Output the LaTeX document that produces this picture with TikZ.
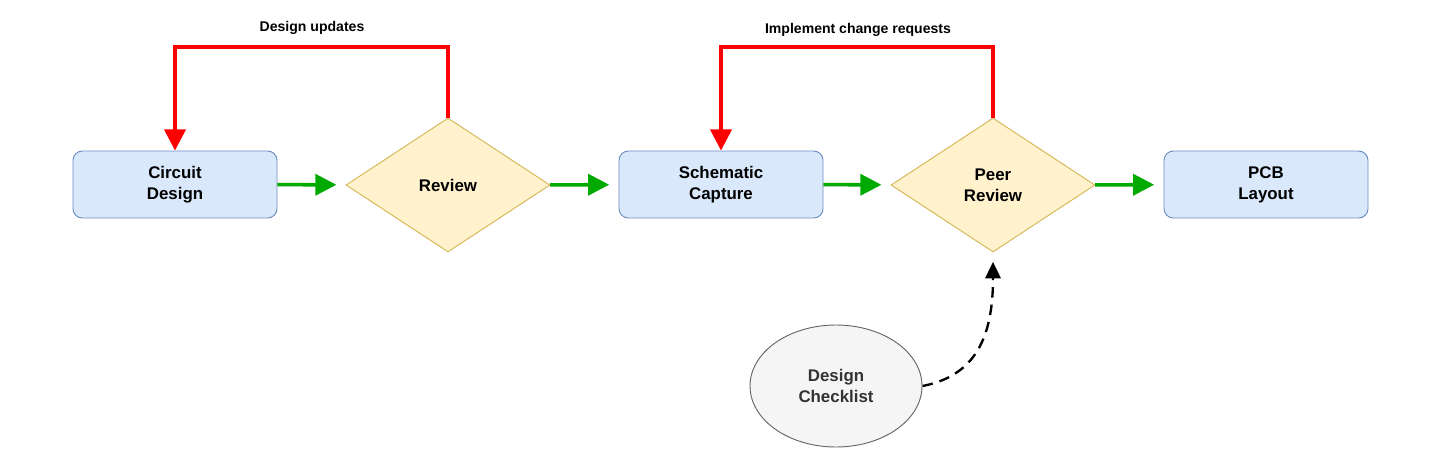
\documentclass[tikz,border=0pt]{standalone}
\usepackage{fontspec}
\setmainfont{Liberation Sans}
\usetikzlibrary{shapes.geometric,arrows.meta}
\definecolor{boxfill}{HTML}{DAE8FC}
\definecolor{boxline}{HTML}{6C8EBF}
\definecolor{decfill}{HTML}{FFF2CC}
\definecolor{decline}{HTML}{D6B656}
\definecolor{ovalfill}{HTML}{F5F5F5}
\definecolor{ovalline}{HTML}{666666}
\definecolor{flowgreen}{HTML}{00AA00}
\tikzset{
  stage/.style={draw=boxline,fill=boxfill,rounded corners=8pt,minimum width=6.12cm,
    minimum height=2.01cm,align=center,font=\Large\bfseries,line width=0.8pt},
  check/.style={diamond,draw=decline,fill=decfill,minimum width=6.12cm,minimum height=4.02cm,
    inner sep=0pt,align=center,font=\Large\bfseries,line width=0.8pt},
  oval/.style={ellipse,draw=ovalline,fill=ovalfill,minimum width=5.16cm,minimum height=3.66cm,
    align=center,font=\Large\bfseries,text=black!80,line width=0.8pt},
  go/.style={draw=flowgreen,line width=3pt,-{Triangle[length=18pt,width=18pt]},shorten >=8pt},
  back/.style={draw=red,line width=3pt,-{Triangle[length=18pt,width=18pt]}},
  note/.style={font=\large\bfseries}
}
\begin{document}
\begin{tikzpicture}[x=0.03cm,y=-0.03cm]
    \useasboundingbox (0,0) rectangle (1431,463);
    % main flow
    \node[stage] (circuit) at (175,184.5) {Circuit\\Design};
    \node[check] (review) at (448,185) {Review};
    \node[stage] (schematic) at (721,184.5) {Schematic\\Capture};
    \node[check] (peer) at (993,185) {Peer\\Review};
    \node[stage] (pcb) at (1266,184.5) {PCB\\Layout};
    \node[oval] (checklist) at (836,386) {Design\\Checklist};

    \draw[go] (circuit) -- (review);
    \draw[go] (review) -- (schematic);
    \draw[go] (schematic) -- (peer);
    \draw[go] (peer) -- (pcb);

    % feedback loops
    \coordinate (loopA) at (448,47);
    \coordinate (loopB) at (993,47);
    \draw[back] (review.north) -- (loopA) -| (circuit.north);
    \draw[back] (peer.north) -- (loopB) -| (schematic.north);
    \node[note] (updates) at (312,28) {Design updates};
    \node[note] (requests) at (858,30) {Implement change requests};

    % checklist input
    \draw[line width=2pt,dash pattern=on 9pt off 6pt,-{Triangle[length=14pt,width=13pt]}]
        (checklist.east) .. controls (980,375) and (993,330) .. ([yshift=-8pt]peer.south);
\end{tikzpicture}
\end{document}
